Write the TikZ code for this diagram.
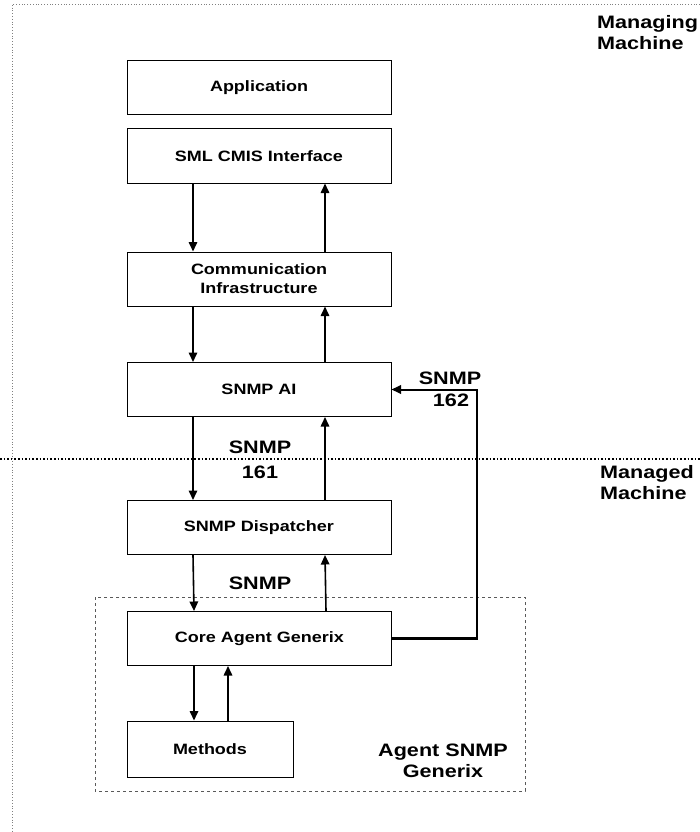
\documentclass[tikz,border=0pt]{standalone}
\usepackage{fontspec}
\newfontfamily\lab{Liberation Sans}[FakeStretch=1.2]
\usetikzlibrary{arrows.meta}
\begin{document}
\begin{tikzpicture}[x=1pt,y=-1pt,
  box/.style={draw=black,line width=1pt,minimum width=264pt,minimum height=54pt,inner sep=0pt,font=\lab\bfseries\fontsize{15}{19}\selectfont,align=center},
  arr/.style={line width=1.6pt,-{Triangle[width=8.5pt,length=9.5pt]}},
  biglab/.style={font=\lab\bfseries\fontsize{18}{21.5}\selectfont,inner sep=0pt}]
\useasboundingbox (0,0) rectangle (700,832);
% outer frame
\draw[gray,dotted,line width=0.8pt] (700,4) -- (12,4) -- (12,832);
% boxes
\node[box] (app) at (259,88) {Application};
\node[box] (sml) at (259,156) {SML CMIS Interface};
\node[box] (comm) at (259,279) {Communication\\Infrastructure};
\node[box] (ai) at (259,389.5) {SNMP AI};
\node[box] (disp) at (259,527.5) {SNMP Dispatcher};
\node[box] (core) at (259.5,638.5) {Core Agent Generix};
\node[box,minimum width=166pt,minimum height=56pt] (meth) at (210,749) {Methods};
% agent dashed box
\draw[gray!70!black,dashed,line width=0.8pt] (95,597) rectangle (525,791);
% machine boundary
\draw[black,dotted,line width=1.6pt] (0,459) -- (700,459);
% arrows
\draw[arr] ([xshift=-66pt]sml.south) -- ([xshift=-66pt]comm.north);
\draw[arr] ([xshift=66pt]comm.north) -- ([xshift=66pt]sml.south);
\draw[arr] ([xshift=-66pt]comm.south) -- ([xshift=-66pt]ai.north);
\draw[arr] ([xshift=66pt]ai.north) -- ([xshift=66pt]comm.south);
\draw[arr] ([xshift=-66pt]ai.south) -- ([xshift=-66pt]disp.north);
\draw[arr] ([xshift=66pt]disp.north) -- ([xshift=66pt]ai.south);
\draw[arr] ([xshift=-66pt]disp.south) -- ([xshift=-65.5pt]core.north);
\draw[arr] ([xshift=66.5pt]core.north) -- ([xshift=66pt]disp.south);
\draw[arr] ([xshift=-65.5pt]core.south) -- ([xshift=-16pt]meth.north);
\draw[arr] ([xshift=18pt]meth.north) -- ([xshift=-31.5pt]core.south);
\coordinate (c1) at (477,638.5);
\coordinate (c2) at (477,389.5);
\draw[line width=2.2pt] (core.east) -- (c1) -- (c2);
\draw[arr,line width=2pt] ([xshift=1.1pt]c2) -- (ai.east);
% labels
\node[biglab,align=left,anchor=north west] (mng) at (597,15) {Managing\\Machine};
\node[biglab,align=left,anchor=north west] (mgd) at (600,465) {Managed\\Machine};
\node[biglab] (s161a) at (260,447) {SNMP};
\node[biglab] (s161b) at (260,472) {161};
\node[biglab] (s162a) at (450,378) {SNMP};
\node[biglab] (s162b) at (451,400) {162};
\node[biglab] (s) at (260,583) {SNMP};
\node[biglab,align=center] (ag) at (443,761) {Agent SNMP\\Generix};
\end{tikzpicture}
\end{document}
